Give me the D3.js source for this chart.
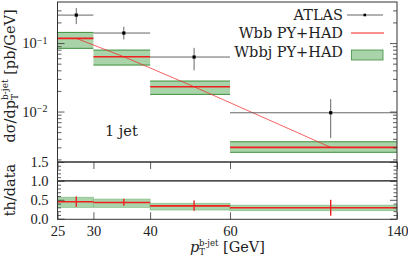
<!DOCTYPE html>
<html>
<head>
<meta charset="utf-8">
<script src="https://cdn.jsdelivr.net/npm/d3@7"></script>
<style>
body{margin:0;background:#fff;}
svg text{fill:#222;}
.axis path{display:none;}
.axis line{stroke:#333;stroke-width:0.8;}
</style>
</head>
<body>
<div id="canvas"></div>
<script>
// bins of pT (GeV)
var binLo = [25, 30, 40, 60],
    binHi = [30, 40, 60, 140],
    atlasX = [27.5, 35, 50, 100];
// ATLAS data
var atlasY  = [0.256, 0.140, 0.0625, 0.0096],
    atlasUp = [0.324, 0.173, 0.085, 0.0152],
    atlasDn = [0.189, 0.113, 0.040, 0.0041];
// Wbb PY+HAD (line) and Wbbj PY+HAD (band)
var wbbY   = [0.117, 0.0631, 0.0230, 0.0030],
    wbbjLo = [0.0837, 0.0477, 0.0178, 0.00254],
    wbbjHi = [0.143, 0.079, 0.0279, 0.00362];
// th/data ratio
var ratioY      = [0.45, 0.43, 0.34, 0.29],
    ratioErrLo  = [0.32, 0.34, 0.21, 0.08],
    ratioErrHi  = [0.585, 0.53, 0.48, 0.50],
    ratioBandLo = [0.30, 0.30, 0.23, 0.21],
    ratioBandHi = [0.57, 0.52, 0.41, 0.36];
// ticks
var xTicks = [25, 30, 40, 60, 140],
    yMajor = [0.01, 0.1],
    yMinor = [0.002,0.003,0.004,0.005,0.006,0.007,0.008,0.009,0.02,0.03,0.04,0.05,0.06,0.07,0.08,0.09,0.2,0.3],
    rMajor = [0, 0.5, 1.0, 1.5],
    rMinor = [0.1,0.2,0.3,0.4,0.6,0.7,0.8,0.9,1.1,1.2,1.3,1.4];

var W = 408, H = 259,
    m = {l:57.5, r:397},
    main = {t:2, b:162},
    rat = {t:162, b:219.3};
var numFont = '"Liberation Serif", "DejaVu Serif", serif',
    txtFont = '"DejaVu Serif", "Liberation Serif", serif';

var svg = d3.select('#canvas').append('svg')
    .attr('width', W).attr('height', H)
    .attr('font-family', txtFont);

var x = d3.scaleLog().domain([25, 140]).range([m.l, m.r]);
var y = d3.scaleLog().domain([0.001833, 0.3976]).range([main.b, main.t]);
var yr = d3.scaleLinear().domain([-0.015, 1.5]).range([rat.b, rat.t]);

var green = '#a9d3a9', dgreen = '#3f8f3f', red = '#f02020';
var idx = d3.range(binLo.length);

// ---- main panel ----
var gMain = svg.append('g');
gMain.selectAll('rect.band').data(idx).enter().append('rect')
    .attr('class','band')
    .attr('x', function(i){return x(binLo[i]);})
    .attr('width', function(i){return x(binHi[i]) - x(binLo[i]);})
    .attr('y', function(i){return y(wbbjHi[i]);})
    .attr('height', function(i){return y(wbbjLo[i]) - y(wbbjHi[i]);})
    .attr('fill', green);
[wbbjLo, wbbjHi].forEach(function(arr){
  gMain.selectAll(null).data(idx).enter().append('line')
    .attr('x1', function(i){return x(binLo[i]);})
    .attr('x2', function(i){return x(binHi[i]);})
    .attr('y1', function(i){return y(arr[i]);})
    .attr('y2', function(i){return y(arr[i]);})
    .attr('stroke', dgreen).attr('stroke-width', 1);
});
gMain.selectAll(null).data(idx).enter().append('line')
    .attr('x1', function(i){return x(binLo[i]);})
    .attr('x2', function(i){return x(binHi[i]);})
    .attr('y1', function(i){return y(wbbY[i]);})
    .attr('y2', function(i){return y(wbbY[i]);})
    .attr('stroke', red).attr('stroke-width', 1.6);

var line = d3.line()
    .x(function(i){return x(atlasX[i]);})
    .y(function(i){return y(wbbY[i]);});
gMain.append('path').datum(idx).attr('d', line)
    .attr('fill','none').attr('stroke', red).attr('stroke-width', 0.7);

// ATLAS points
gMain.selectAll(null).data(idx).enter().append('line')
    .attr('x1', function(i){return x(binLo[i]);})
    .attr('x2', function(i){return x(binHi[i]);})
    .attr('y1', function(i){return y(atlasY[i]);})
    .attr('y2', function(i){return y(atlasY[i]);})
    .attr('stroke', '#555').attr('stroke-width', 0.9);
gMain.selectAll(null).data(idx).enter().append('line')
    .attr('x1', function(i){return x(atlasX[i]);})
    .attr('x2', function(i){return x(atlasX[i]);})
    .attr('y1', function(i){return y(atlasUp[i]);})
    .attr('y2', function(i){return y(atlasDn[i]);})
    .attr('stroke', '#555').attr('stroke-width', 0.9);
gMain.selectAll(null).data(idx).enter().append('rect')
    .attr('x', function(i){return x(atlasX[i]) - 1.6;})
    .attr('y', function(i){return y(atlasY[i]) - 1.6;})
    .attr('width', 3.2).attr('height', 3.2).attr('fill', '#000');

// ---- ratio panel ----
var gRat = svg.append('g');
gRat.selectAll(null).data(idx).enter().append('rect')
    .attr('x', function(i){return x(binLo[i]);})
    .attr('width', function(i){return x(binHi[i]) - x(binLo[i]);})
    .attr('y', function(i){return yr(ratioBandHi[i]);})
    .attr('height', function(i){return yr(ratioBandLo[i]) - yr(ratioBandHi[i]);})
    .attr('fill', green).attr('stroke', '#7fb87f').attr('stroke-width', 0.6);
gRat.append('line')
    .attr('x1', m.l).attr('x2', m.r)
    .attr('y1', yr(1)).attr('y2', yr(1))
    .attr('stroke', '#111').attr('stroke-width', 1.3);
gRat.selectAll(null).data(idx).enter().append('line')
    .attr('x1', function(i){return x(binLo[i]);})
    .attr('x2', function(i){return x(binHi[i]);})
    .attr('y1', function(i){return yr(ratioY[i]);})
    .attr('y2', function(i){return yr(ratioY[i]);})
    .attr('stroke', red).attr('stroke-width', 1.6);
gRat.selectAll(null).data(idx).enter().append('line')
    .attr('x1', function(i){return x(atlasX[i]);})
    .attr('x2', function(i){return x(atlasX[i]);})
    .attr('y1', function(i){return yr(ratioErrHi[i]);})
    .attr('y2', function(i){return yr(ratioErrLo[i]);})
    .attr('stroke', red).attr('stroke-width', 1.4);

// ---- axes ----
function addAxis(axis, tx, ty){
  var g = svg.append('g').attr('class','axis')
    .attr('transform','translate(' + tx + ',' + ty + ')')
    .call(axis);
  g.attr('font-family', numFont).attr('font-size', 14.5);
  return g;
}
// main y
var yl = addAxis(d3.axisLeft(y).tickValues(yMajor).tickSize(-7).tickPadding(10).tickFormat(''), m.l, 0);
yl.selectAll('.tick text').each(function(d){
  var t = d3.select(this);
  t.append('tspan').text('10');
  t.append('tspan').attr('dy','-0.45em').attr('font-size', 10).text('\u2212' + Math.round(-Math.log10(d)));
});
addAxis(d3.axisLeft(y).tickValues(yMinor).tickSize(-4).tickFormat(''), m.l, 0);
addAxis(d3.axisRight(y).tickValues(yMajor).tickSize(-7).tickFormat(''), m.r, 0);
addAxis(d3.axisRight(y).tickValues(yMinor).tickSize(-4).tickFormat(''), m.r, 0);
// ratio y
addAxis(d3.axisLeft(yr).tickValues(rMajor).tickSize(-7).tickPadding(9).tickFormat(d3.format('.1f')), m.l, 0);
addAxis(d3.axisLeft(yr).tickValues(rMinor).tickSize(-3.5).tickFormat(''), m.l, 0);
addAxis(d3.axisRight(yr).tickValues(rMajor).tickSize(-7).tickFormat(''), m.r, 0);
addAxis(d3.axisRight(yr).tickValues(rMinor).tickSize(-3.5).tickFormat(''), m.r, 0);
// x
addAxis(d3.axisBottom(x).tickValues(xTicks).tickSize(-7).tickPadding(6).tickFormat(d3.format('d')), 0, rat.b);
addAxis(d3.axisTop(x).tickValues(xTicks).tickSize(-7).tickFormat(''), 0, rat.t);

// frames
svg.append('rect').attr('x', m.l).attr('y', main.t).attr('width', m.r - m.l).attr('height', main.b - main.t)
  .attr('fill','none').attr('stroke','#333').attr('stroke-width',1);
svg.append('rect').attr('x', m.l).attr('y', rat.t).attr('width', m.r - m.l).attr('height', rat.b - rat.t)
  .attr('fill','none').attr('stroke','#333').attr('stroke-width',1);

// ---- labels ----
var ylab = svg.append('text').attr('transform','translate(15,76) rotate(-90)')
  .attr('text-anchor','middle').attr('font-size', 14.5);
ylab.append('tspan').text('d\u03c3/dp');
ylab.append('tspan').attr('dy', 3).attr('font-size', 9).text('T');
ylab.append('tspan').attr('dx', -6).attr('dy', -10).attr('font-size', 9).text('b-jet');
ylab.append('tspan').attr('dy', 7).text(' [pb/GeV]');

svg.append('text').attr('transform','translate(15,190) rotate(-90)')
  .attr('text-anchor','middle').attr('font-size', 14.5).text('th/data');

var xlab = svg.append('text').attr('x', 190).attr('y', 252)
  .attr('font-size', 14.5);
xlab.append('tspan').attr('font-style','italic').text('p');
xlab.append('tspan').attr('dy', 3).attr('font-size', 8.5).text('T');
xlab.append('tspan').attr('dx', -6).attr('dy', -9).attr('font-size', 8.5).text('b-jet');
xlab.append('tspan').attr('dy', 6).text('  [GeV]');

svg.append('text').attr('x', 105).attr('y', 136).attr('font-size', 14.5).text('1 jet');

// ---- legend ----
var leg = svg.append('g');
var legY = [15, 33, 52];
var legText = ['ATLAS', 'Wbb PY+HAD', 'Wbbj PY+HAD'];
leg.selectAll('text').data(legText).enter().append('text')
  .attr('x', 343).attr('y', function(d,i){return legY[i];})
  .attr('dy','0.35em').attr('text-anchor','end').attr('font-size', 14.5)
  .text(function(d){return d;});
leg.append('line').attr('x1',347).attr('x2',383).attr('y1',legY[0]).attr('y2',legY[0])
  .attr('stroke','#555').attr('stroke-width',0.9);
leg.append('rect').attr('x',363.5).attr('y',legY[0]-1.3).attr('width',2.6).attr('height',2.6).attr('fill','#000');
leg.append('line').attr('x1',351).attr('x2',384).attr('y1',legY[1]).attr('y2',legY[1])
  .attr('stroke',red).attr('stroke-width',1);
leg.append('rect').attr('x',351.5).attr('y',legY[2]-2).attr('width',31.5).attr('height',10)
  .attr('fill',green).attr('stroke',dgreen).attr('stroke-width',0.8);
</script>
</body>
</html>
